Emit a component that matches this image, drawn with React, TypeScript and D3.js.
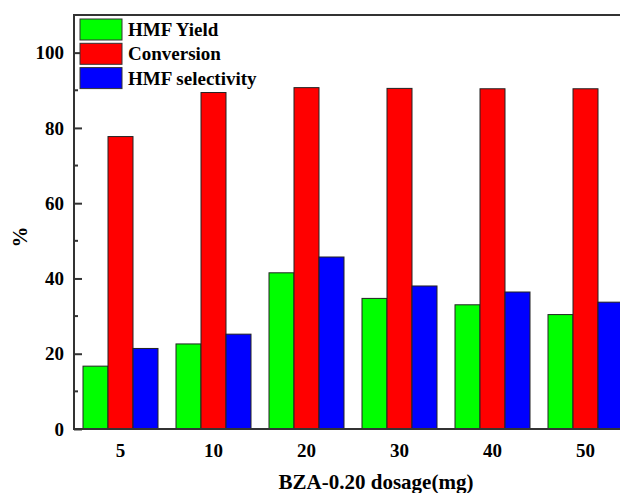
import React, { useEffect, useRef } from "react";
import * as d3 from "d3";

const dosages = ["5", "10", "20", "30", "40", "50"];
const seriesNames = ["HMF Yield", "Conversion", "HMF selectivity"];
const seriesColors = ["#00ff00", "#ff0000", "#0000ff"];
const hmfYield = [16.7, 22.6, 41.5, 34.7, 33.0, 30.4];
const conversion = [77.7, 89.4, 90.7, 90.5, 90.4, 90.4];
const hmfSelectivity = [21.4, 25.2, 45.7, 38.0, 36.4, 33.7];
const yTicks = [0, 20, 40, 60, 80, 100];
const yMinorTicks = [10, 30, 50, 70, 90];

export default function App() {
  const ref = useRef<SVGSVGElement>(null);

  useEffect(() => {
    const svg = d3.select(ref.current);
    svg.selectAll("*").remove();

    const left = 74, top = 15, bottom = 429;
    const step = 93;
    const right = left + step * dosages.length;
    const font = "'Liberation Serif', 'Times New Roman', serif";

    const x = d3.scaleBand().domain(dosages).range([left, right])
      .paddingInner(18 / 93).paddingOuter(9 / 93);
    const sub = d3.scaleBand().domain(seriesNames).range([0, x.bandwidth()]);
    const y = d3.scaleLinear().domain([0, 110]).range([bottom, top]);

    const allSeries = [hmfYield, conversion, hmfSelectivity];

    // bars
    allSeries.forEach((vals, si) => {
      svg.append("g").selectAll("rect")
        .data(vals)
        .enter().append("rect")
        .attr("x", (d, i) => (x(dosages[i]) as number) + (sub(seriesNames[si]) as number))
        .attr("y", d => y(d))
        .attr("width", sub.bandwidth())
        .attr("height", d => y(0) - y(d))
        .attr("fill", seriesColors[si])
        .attr("stroke", "#222")
        .attr("stroke-width", 1);
    });

    // frame
    svg.append("rect")
      .attr("x", left).attr("y", top)
      .attr("width", right - left).attr("height", bottom - top)
      .attr("fill", "none").attr("stroke", "#333").attr("stroke-width", 2);

    // y axis ticks (inward)
    const yAxis = svg.append("g")
      .attr("transform", `translate(${left},0)`)
      .call(d3.axisLeft(y).tickValues(yTicks).tickSize(-8).tickPadding(10));
    yAxis.select(".domain").remove();
    yAxis.selectAll("line").attr("stroke", "#333").attr("stroke-width", 2);
    yAxis.selectAll("text")
      .style("font-family", font).style("font-size", "19px")
      .style("font-weight", "bold").attr("fill", "#000");

    // minor ticks
    svg.append("g").selectAll("line")
      .data(yMinorTicks)
      .enter().append("line")
      .attr("x1", left).attr("x2", left + 4)
      .attr("y1", d => y(d)).attr("y2", d => y(d))
      .attr("stroke", "#333").attr("stroke-width", 2);

    // x labels
    svg.append("g").selectAll("text")
      .data(dosages)
      .enter().append("text")
      .attr("x", d => (x(d) as number) + x.bandwidth() / 2)
      .attr("y", 457)
      .attr("text-anchor", "middle")
      .style("font-family", font).style("font-size", "19px").style("font-weight", "bold")
      .text(d => d);

    // axis titles
    svg.append("text")
      .attr("x", 376).attr("y", 489)
      .attr("text-anchor", "middle")
      .style("font-family", font).style("font-size", "21px").style("font-weight", "bold")
      .text("BZA-0.20 dosage(mg)");

    svg.append("text")
      .attr("transform", "translate(27,237) rotate(-90)")
      .attr("text-anchor", "middle")
      .style("font-family", font).style("font-size", "21px").style("font-weight", "bold")
      .text("%");

    // legend
    const legend = svg.append("g").attr("transform", "translate(80,19)");
    seriesNames.forEach((name, i) => {
      legend.append("rect")
        .attr("x", 0).attr("y", i * 24.3)
        .attr("width", 42).attr("height", 21)
        .attr("fill", seriesColors[i]).attr("stroke", "#333").attr("stroke-width", 1);
      legend.append("text")
        .attr("x", 48).attr("y", i * 24.3 + 17)
        .style("font-family", font).style("font-size", "19px").style("font-weight", "bold")
        .text(name);
    });
  }, []);

  return (
    <svg ref={ref} width={620} height={493}
      style={{ position: "absolute", left: 0, top: 0, background: "#fff" }} />
  );
}
